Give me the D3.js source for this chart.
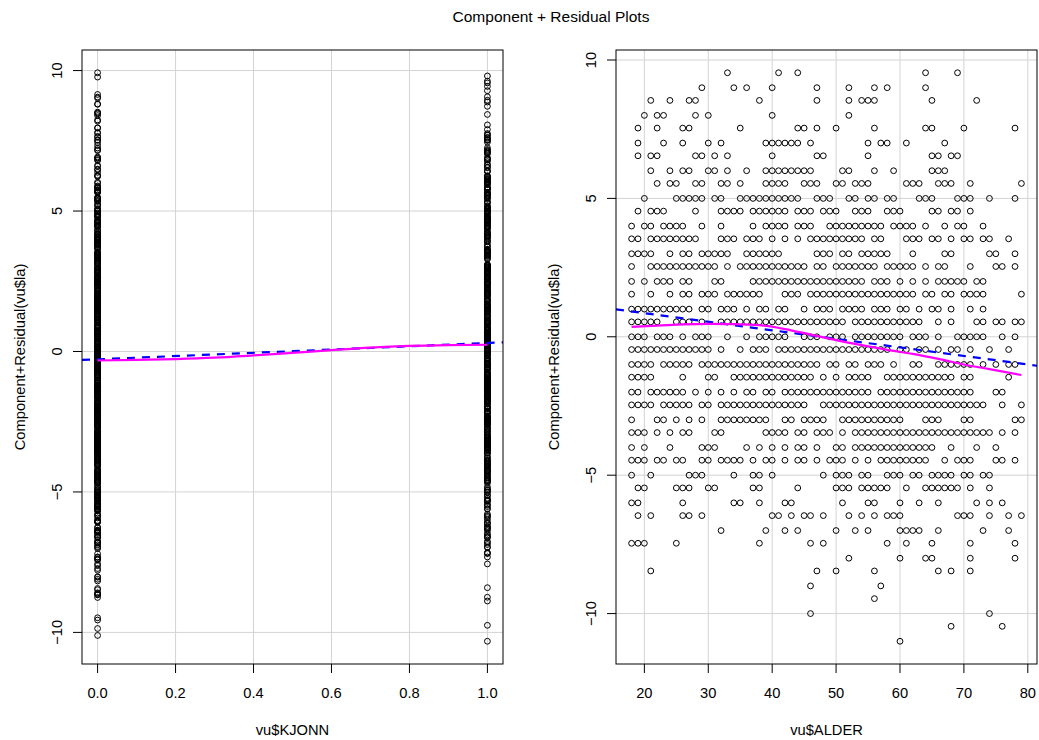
<!DOCTYPE html>
<html>
<head>
<meta charset="utf-8">
<script src="https://cdn.jsdelivr.net/npm/d3@7"></script>
<style>
  body { margin: 0; background: #fff; }
  svg { display: block; font-family: "Liberation Sans", Arial, Helvetica, sans-serif; }
</style>
</head>
<body>
<svg width="1039" height="740"></svg>
<script>
// rows of the ALDER panel: C+R value and the ages that have a point
// KJONN = 0 rows sit at k + 0.54, KJONN = 1 rows at whole numbers
const rowsKjonn0 = [
  { cr: 9.54, ages: [33, 41, 44, 64, 69] },
  { cr: 8.54, ages: [21, 24, 27, 28, 38, 47, 52, 54, 55, 56, 65, 72] },
  { cr: 7.54, ages: [19, 22, 26, 27, 35, 44, 45, 47, 50, 56, 64, 65, 70, 78] },
  { cr: 6.54, ages: [19, 21, 22, 28, 29, 31, 33, 40, 47, 48, 55, 65, 66, 68, 69] },
  { cr: 5.54, ages: [22, 24, 25, 28, 29, 32, 33, 35, 39, 40, 41, 42, 45, 46, 47, 50, 51, 53, 54, 55, 61, 62, 63, 66, 67, 68, 71, 79] },
  { cr: 4.54, ages: [19, 21, 22, 23, 28, 32, 33, 34, 35, 37, 38, 39, 40, 41, 42, 44, 45, 46, 48, 49, 50, 53, 54, 55, 58, 59, 60, 65, 66, 68, 69, 71] },
  { cr: 3.54, ages: [18, 19, 21, 22, 23, 24, 25, 26, 27, 28, 32, 33, 34, 36, 37, 38, 40, 42, 44, 46, 47, 48, 49, 50, 51, 52, 53, 54, 56, 57, 61, 62, 63, 65, 66, 68, 70, 71, 73, 74, 77] },
  { cr: 2.54, ages: [18, 21, 22, 23, 24, 25, 26, 27, 28, 29, 30, 31, 33, 35, 36, 37, 38, 39, 40, 41, 42, 43, 44, 45, 47, 48, 50, 51, 52, 53, 54, 55, 56, 58, 59, 60, 61, 62, 64, 66, 67, 71, 75, 76, 78] },
  { cr: 1.54, ages: [18, 21, 24, 26, 27, 29, 30, 31, 33, 34, 35, 36, 37, 38, 42, 43, 44, 46, 47, 48, 49, 50, 51, 52, 53, 54, 55, 56, 57, 58, 59, 60, 61, 62, 64, 65, 67, 68, 70, 71, 72, 73, 79] },
  { cr: 0.54, ages: [18, 19, 20, 21, 22, 25, 26, 27, 29, 32, 33, 34, 35, 36, 37, 38, 39, 40, 41, 42, 43, 44, 45, 46, 47, 48, 49, 50, 51, 53, 54, 55, 56, 57, 58, 59, 60, 61, 62, 63, 66, 68, 72, 73, 75, 76, 78, 79] },
  { cr: -0.46, ages: [18, 19, 20, 21, 22, 23, 24, 25, 26, 27, 28, 29, 30, 32, 35, 37, 38, 39, 41, 42, 43, 44, 45, 46, 47, 48, 49, 50, 51, 52, 53, 54, 55, 56, 57, 58, 60, 61, 63, 64, 66, 68, 69, 71, 74, 77] },
  { cr: -1.46, ages: [18, 19, 20, 21, 26, 30, 31, 34, 35, 36, 37, 38, 39, 40, 41, 42, 43, 44, 45, 46, 48, 50, 52, 53, 54, 55, 58, 59, 60, 61, 62, 63, 64, 65, 66, 67, 68, 70, 71, 77] },
  { cr: -2.46, ages: [18, 19, 20, 21, 23, 24, 25, 26, 27, 29, 30, 32, 33, 34, 35, 36, 37, 38, 39, 40, 41, 42, 43, 44, 45, 48, 49, 50, 51, 52, 53, 54, 55, 56, 57, 58, 59, 60, 61, 62, 63, 64, 65, 66, 67, 68, 69, 70, 71, 72, 73, 76, 79] },
  { cr: -3.46, ages: [18, 19, 20, 22, 24, 26, 27, 31, 32, 39, 40, 41, 42, 44, 45, 47, 48, 49, 51, 53, 54, 55, 56, 57, 58, 59, 60, 61, 62, 63, 64, 65, 66, 67, 68, 69, 70, 71, 72, 73, 74, 76, 78] },
  { cr: -4.46, ages: [18, 19, 20, 22, 23, 25, 26, 29, 30, 32, 33, 34, 35, 37, 39, 40, 42, 44, 45, 47, 49, 50, 51, 53, 55, 57, 58, 59, 60, 61, 62, 63, 64, 67, 69, 70, 71, 75, 76, 78] },
  { cr: -5.46, ages: [19, 20, 25, 26, 27, 30, 31, 37, 38, 44, 50, 51, 52, 54, 55, 56, 57, 58, 61, 64, 65, 66, 67, 68, 69, 71, 74] },
  { cr: -6.46, ages: [19, 21, 26, 27, 29, 40, 41, 43, 45, 46, 48, 52, 54, 56, 58, 59, 60, 69, 70, 71, 74, 77, 79] },
  { cr: -7.46, ages: [18, 19, 20, 25, 38, 46, 48, 58, 61, 65, 71, 78] },
  { cr: -8.46, ages: [21, 47, 50, 56, 66, 68, 71] },
  { cr: -9.46, ages: [56] },
  { cr: -10.46, ages: [68, 76] }
];

const rowsKjonn1 = [
  { cr: 9, ages: [29, 34, 36, 40, 47, 52, 56, 58, 64] },
  { cr: 8, ages: [20, 22, 23, 28, 30, 40, 52] },
  { cr: 7, ages: [19, 23, 26, 30, 32, 39, 40, 41, 42, 43, 44, 46, 55, 57, 58, 61, 67] },
  { cr: 6, ages: [21, 24, 26, 27, 30, 31, 33, 36, 39, 40, 41, 42, 43, 44, 45, 46, 51, 52, 56, 59, 65, 66, 67] },
  { cr: 5, ages: [20, 25, 26, 27, 28, 29, 31, 32, 35, 36, 37, 38, 39, 40, 41, 42, 43, 44, 47, 48, 49, 52, 53, 55, 56, 58, 59, 63, 64, 65, 69, 70, 71, 74, 78] },
  { cr: 4, ages: [18, 20, 21, 23, 24, 25, 26, 29, 32, 37, 39, 40, 41, 42, 44, 45, 46, 49, 50, 51, 52, 53, 54, 55, 56, 57, 59, 60, 61, 62, 64, 67, 69, 70, 73] },
  { cr: 3, ages: [18, 19, 20, 21, 24, 26, 27, 29, 30, 31, 32, 33, 36, 37, 38, 39, 40, 41, 47, 48, 49, 51, 52, 54, 55, 56, 57, 58, 62, 67, 68, 74, 75, 78] },
  { cr: 2, ages: [18, 20, 22, 23, 24, 26, 27, 31, 32, 37, 38, 39, 40, 41, 42, 43, 44, 45, 46, 47, 48, 49, 50, 51, 52, 53, 54, 56, 57, 58, 60, 62, 64, 66, 67, 68, 69, 70, 72, 73] },
  { cr: 1, ages: [18, 19, 20, 21, 22, 23, 24, 25, 26, 27, 29, 30, 32, 33, 34, 36, 38, 39, 41, 42, 45, 47, 48, 49, 51, 52, 53, 54, 56, 57, 58, 60, 61, 63, 65, 66, 68, 71, 73] },
  { cr: 0, ages: [18, 19, 20, 22, 23, 24, 26, 28, 29, 30, 33, 36, 38, 39, 40, 41, 42, 45, 46, 47, 49, 50, 51, 53, 54, 55, 56, 57, 58, 59, 60, 62, 63, 64, 66, 69, 70, 71, 72, 73, 76, 78] },
  { cr: -1, ages: [18, 19, 20, 21, 23, 24, 25, 26, 27, 29, 30, 31, 32, 33, 34, 35, 36, 37, 38, 39, 40, 41, 42, 43, 44, 45, 46, 47, 49, 50, 52, 53, 55, 56, 57, 59, 62, 63, 66, 67, 68, 69, 70, 71, 73, 75, 77, 78] },
  { cr: -2, ages: [18, 19, 21, 22, 23, 24, 25, 26, 28, 30, 32, 34, 36, 37, 39, 40, 42, 43, 44, 45, 46, 47, 48, 49, 50, 51, 52, 53, 54, 55, 57, 58, 59, 60, 61, 62, 63, 64, 65, 66, 67, 68, 69, 70, 71, 75, 76] },
  { cr: -3, ages: [18, 22, 23, 25, 27, 29, 32, 33, 34, 35, 36, 37, 38, 39, 42, 43, 45, 46, 47, 48, 51, 52, 53, 54, 55, 56, 57, 58, 59, 60, 64, 65, 66, 70, 71, 78, 79] },
  { cr: -4, ages: [18, 20, 24, 29, 30, 31, 36, 38, 40, 42, 44, 45, 47, 50, 51, 53, 54, 55, 56, 57, 58, 59, 60, 61, 62, 63, 64, 65, 68, 72, 75] },
  { cr: -5, ages: [18, 21, 27, 28, 29, 34, 37, 38, 40, 48, 50, 51, 52, 54, 55, 58, 59, 60, 62, 63, 65, 66, 67, 68, 70, 71, 73, 74] },
  { cr: -6, ages: [18, 19, 26, 34, 35, 38, 42, 43, 51, 55, 56, 60, 63, 66, 72, 74, 76] },
  { cr: -7, ages: [32, 39, 42, 44, 50, 53, 55, 60, 61, 62, 63, 66, 73, 77] },
  { cr: -8, ages: [52, 60, 64, 65, 71, 78] },
  { cr: -9, ages: [46, 57] },
  { cr: -10, ages: [46, 74] },
  { cr: -11, ages: [60] }
];

// fitted components (blue dashed lines)
const slopeKjonn = 0.58, meanKjonn = 0.48;
const slopeAlder = -0.0309, meanAlder = 47.6;

// smoother (magenta)
const smoothKjonnX = [0, 0.1, 0.2, 0.3, 0.4, 0.5, 0.6, 0.7, 0.8, 0.9, 1.0];
const smoothKjonnY = [-0.32, -0.30, -0.27, -0.22, -0.14, -0.05, 0.05, 0.14, 0.20, 0.23, 0.24];
const smoothAlderX = [18, 22, 26, 30, 34, 38, 42, 46, 50, 54, 58, 62, 66, 70, 74, 79];
const smoothAlderY = [0.36, 0.40, 0.45, 0.47, 0.46, 0.42, 0.28, 0.08, -0.12, -0.30, -0.47, -0.62, -0.80, -1.00, -1.17, -1.38];

const kjonnTicks = [0, 0.2, 0.4, 0.6, 0.8, 1.0];
const alderTicks = [20, 30, 40, 50, 60, 70, 80];
const crTicks = [-10, -5, 0, 5, 10];

// records: one per visible circle
let records = [];
rowsKjonn0.forEach(r => r.ages.forEach(a => records.push({ age: a, kjonn: 0, cr: r.cr })));
rowsKjonn1.forEach(r => r.ages.forEach(a => records.push({ age: a, kjonn: 1, cr: r.cr })));
// partial residual for KJONN from the same records
records.forEach(d => {
  d.crK = d.cr + slopeKjonn * (d.kjonn - meanKjonn) - slopeAlder * (d.age - meanAlder);
});

const svg = d3.select("svg");
svg.append("rect").attr("width", 1039).attr("height", 740).attr("fill", "#fff");

svg.append("text")
  .attr("x", 551).attr("y", 22)
  .attr("text-anchor", "middle")
  .style("font-size", "15.5px")
  .text("Component + Residual Plots");

// R style range: data extent plus 4% each side
function rRange(ext) {
  let pad = (ext[1] - ext[0]) * 0.04;
  return [ext[0] - pad, ext[1] + pad];
}

function drawPanel(o) {
  let top = 50, bottom = 664;
  let x = d3.scaleLinear().domain(rRange(d3.extent(o.xs))).range([o.left, o.left + 421]);
  let y = d3.scaleLinear().domain(rRange(d3.extent(o.ys))).range([bottom, top]);
  let g = svg.append("g");
  let right = o.left + 421;

  let clipId = "clip" + o.left;
  g.append("clipPath").attr("id", clipId)
    .append("rect").attr("x", o.left).attr("y", top).attr("width", 421).attr("height", bottom - top);

  // grid
  g.selectAll("line.gx").data(o.xTicks).join("line")
    .attr("x1", d => x(d)).attr("x2", d => x(d)).attr("y1", top).attr("y2", bottom)
    .attr("stroke", "#d3d3d3").attr("stroke-width", 1);
  g.selectAll("line.gy").data(crTicks).join("line")
    .attr("y1", d => y(d)).attr("y2", d => y(d)).attr("x1", o.left).attr("x2", right)
    .attr("stroke", "#d3d3d3").attr("stroke-width", 1);

  // points
  g.append("g").selectAll("circle").data(o.points).join("circle")
    .attr("cx", d => x(o.px(d))).attr("cy", d => y(o.py(d)))
    .attr("r", 2.9)
    .attr("fill", "none").attr("stroke", "#000").attr("stroke-width", 1);

  // fitted line
  let xd = x.domain();
  g.append("line")
    .attr("clip-path", `url(#${clipId})`)
    .attr("x1", x(xd[0])).attr("y1", y(o.fit(xd[0])))
    .attr("x2", x(xd[1])).attr("y2", y(o.fit(xd[1])))
    .attr("stroke", "#0000ff").attr("stroke-width", 2.2).attr("stroke-dasharray", "8,7");

  // smoother
  g.append("path")
    .datum(o.smoothX.map((v, i) => [v, o.smoothY[i]]))
    .attr("d", d3.line().x(d => x(d[0])).y(d => y(d[1])).curve(d3.curveMonotoneX))
    .attr("fill", "none").attr("stroke", "#ff00ff").attr("stroke-width", 2.2);

  // box
  g.append("rect").attr("x", o.left).attr("y", top).attr("width", 421).attr("height", bottom - top)
    .attr("fill", "none").attr("stroke", "#000").attr("stroke-width", 1);

  // axes
  g.selectAll("line.tx").data(o.xTicks).join("line")
    .attr("x1", d => x(d)).attr("x2", d => x(d)).attr("y1", bottom).attr("y2", bottom + 9)
    .attr("stroke", "#000");
  g.selectAll("text.tx").data(o.xTicks).join("text")
    .attr("x", d => x(d)).attr("y", 698)
    .attr("text-anchor", "middle").style("font-size", "14.7px")
    .text(o.xFormat);
  g.selectAll("line.ty").data(crTicks).join("line")
    .attr("y1", d => y(d)).attr("y2", d => y(d)).attr("x1", o.left - 9).attr("x2", o.left)
    .attr("stroke", "#000");
  g.selectAll("text.ty").data(crTicks).join("text")
    .attr("transform", d => `translate(${o.left - 20},${y(d)}) rotate(-90)`)
    .attr("text-anchor", "middle").style("font-size", "14.7px")
    .text(d => d < 0 ? "\u2212" + Math.abs(d) : d);

  g.append("text")
    .attr("x", (o.left + right) / 2).attr("y", 735)
    .attr("text-anchor", "middle").style("font-size", "14.7px")
    .text(o.xLabel);
  g.append("text")
    .attr("transform", `translate(${o.left - 57},${(top + bottom) / 2}) rotate(-90)`)
    .attr("text-anchor", "middle").style("font-size", "14.7px")
    .text("Component+Residual(vu$la)");
}

drawPanel({
  left: 82,
  xs: records.map(d => d.kjonn),
  ys: records.map(d => d.crK),
  points: records,
  px: d => d.kjonn,
  py: d => d.crK,
  fit: v => slopeKjonn * (v - meanKjonn),
  smoothX: smoothKjonnX, smoothY: smoothKjonnY,
  xTicks: kjonnTicks,
  xFormat: d3.format(".1f"),
  xLabel: "vu$KJONN"
});

drawPanel({
  left: 616,
  xs: records.map(d => d.age),
  ys: records.map(d => d.cr),
  points: records,
  px: d => d.age,
  py: d => d.cr,
  fit: v => slopeAlder * (v - meanAlder),
  smoothX: smoothAlderX, smoothY: smoothAlderY,
  xTicks: alderTicks,
  xFormat: d => d,
  xLabel: "vu$ALDER"
});
</script>
</body>
</html>
